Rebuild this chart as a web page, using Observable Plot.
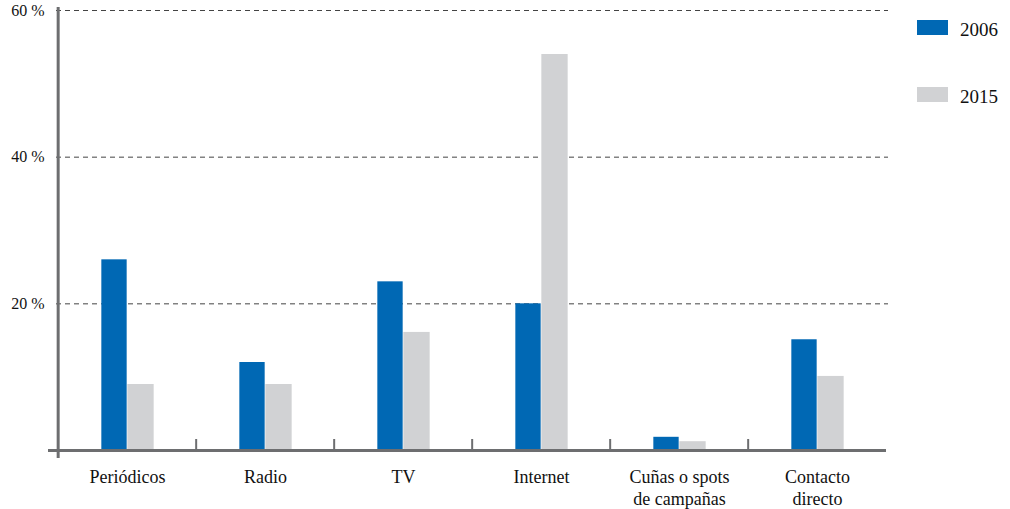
<!DOCTYPE html>
<html>
<head>
<meta charset="utf-8">
<script src="https://cdn.jsdelivr.net/npm/d3@7"></script>
<script src="https://cdn.jsdelivr.net/npm/@observablehq/plot@0.6"></script>
<style>
  html, body { margin: 0; padding: 0; background: #fff; }
  #wrap { position: relative; width: 1010px; height: 509px; }
  .lg { position: absolute; left: 917px; width: 31px; height: 15px; }
  .lt { position: absolute; left: 960px; font-size: 19px; color: #111; line-height: 1; font-family: "Liberation Serif", serif; }
</style>
</head>
<body>
<div id="wrap"></div>
<script>
const categories = ["Periódicos", "Radio", "TV", "Internet", "Cuñas o spots\nde campañas", "Contacto\ndirecto"];
const values2006 = [26, 12, 23, 20, 1.8, 15.1];
const values2015 = [9, 9, 16.1, 54, 1.2, 10.1];
const years = ["2006", "2015"];
const yTicks = [20, 40, 60];
const colors = ["#0068b4", "#d1d2d4"];

const data = categories.flatMap((c, i) => [
  {cat: c, year: "2006", value: values2006[i]},
  {cat: c, year: "2015", value: values2015[i]}
]);

const W = 1010, H = 509;
const mL = 56, mR = 122;
const bw = (W - mL - mR) / categories.length;
const axisGray = "#6d6e70";
const serif = "Liberation Serif";

const chart = Plot.plot({
  width: W,
  height: H,
  marginLeft: mL,
  marginRight: mR,
  marginTop: 10,
  marginBottom: 59,
  style: {fontFamily: serif, fontSize: "16px", color: "#111", background: "transparent"},
  x: {domain: categories, padding: 0, axis: null},
  y: {domain: [0, 60], axis: null},
  marks: [
    Plot.ruleY(yTicks, {stroke: "#444", strokeWidth: 1, strokeDasharray: "5,4"}),
    Plot.barY(data.filter(d => d.year === "2006"), {x: "cat", y: "value", fill: colors[0], insetLeft: bw/2 - 26, insetRight: bw/2}),
    Plot.barY(data.filter(d => d.year === "2015"), {x: "cat", y: "value", fill: colors[1], insetLeft: bw/2, insetRight: bw/2 - 27}),
    Plot.ruleY([0], {stroke: axisGray, strokeWidth: 3, insetLeft: -8, insetRight: 2}),
    Plot.ruleX(categories.slice(1), {x: d => d, dx: -bw/2, y1: 0, y2: 1.5, stroke: axisGray, strokeWidth: 2}),
    Plot.ruleX([categories[0]], {x: d => d, dx: -bw/2, y1: -1.1, y2: 60.4, stroke: axisGray, strokeWidth: 3}),
    Plot.text(yTicks, {y: d => d, text: d => d + " %", frameAnchor: "left", dx: -12, textAnchor: "end", fontSize: 16, fontFamily: serif}),
    Plot.text(categories, {x: d => d, y: 0, text: d => d, dy: 18, lineAnchor: "top", lineHeight: 1.17, fontSize: 18, fontFamily: serif})
  ]
});

const wrap = document.getElementById("wrap");
wrap.appendChild(chart);
const tops = [20, 87];
years.forEach((y, i) => {
  const r = document.createElement("div");
  r.className = "lg";
  r.style.top = tops[i] + "px";
  r.style.background = colors[i];
  wrap.appendChild(r);
  const t = document.createElement("div");
  t.className = "lt";
  t.style.top = (tops[i] + 0) + "px";
  t.textContent = y;
  wrap.appendChild(t);
});
</script>
</body>
</html>
